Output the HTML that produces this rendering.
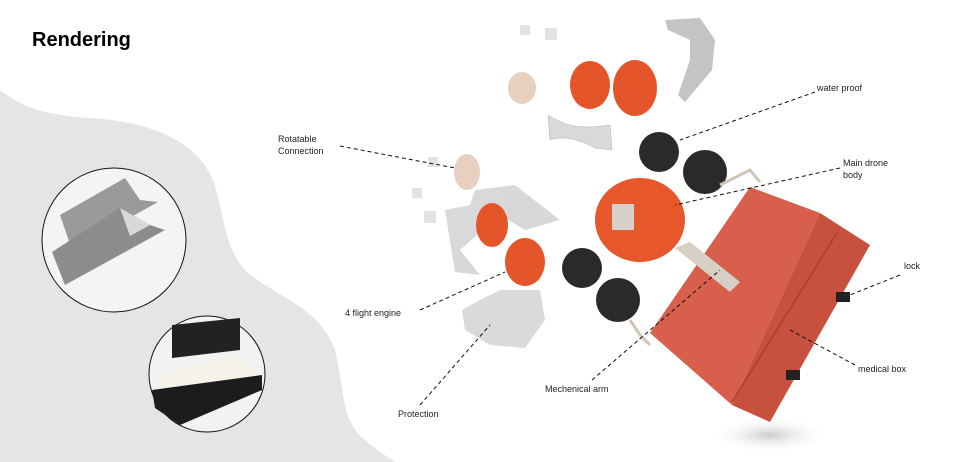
<!DOCTYPE html>
<html><head><style>
html,body{margin:0;padding:0;background:#fff;}
body{width:979px;height:462px;position:relative;overflow:hidden;font-family:"Liberation Sans",sans-serif;}
.t{position:absolute;font-size:9px;color:#222;line-height:12px;}
</style></head><body>
<svg width="979" height="462" style="position:absolute;left:0;top:0">
<defs><radialGradient id="sh"><stop offset="0" stop-color="#ccc"/><stop offset="1" stop-color="#fff" stop-opacity="0"/></radialGradient></defs>
<path d="M0,90 C20,105 40,115 90,118 C150,122 195,140 212,178 C225,210 222,250 250,275 C285,300 320,310 335,350 C345,390 340,420 365,440 C378,452 390,458 395,462 L0,462 Z" fill="#e5e5e6"/>
<circle cx="114" cy="240" r="72" fill="#f4f4f4" stroke="#111" stroke-width="1"/>
<polygon points="60,215 125,178 140,200 158,202 72,250" fill="#9a9a9a"/>
<polygon points="52,252 120,208 150,225 165,230 65,285" fill="#8c8c8c"/>
<polygon points="120,208 150,225 130,236" fill="#d8d8d8"/>
<circle cx="207" cy="374" r="58" fill="#f2f2f2" stroke="#111" stroke-width="1"/>
<polygon points="172,325 240,318 240,350 172,358" fill="#222"/>
<polygon points="155,375 240,355 262,375 170,402" fill="#f5f2ea"/>
<polygon points="152,390 262,375 262,390 180,425 155,408" fill="#1c1c1c"/>
<ellipse cx="770" cy="435" rx="60" ry="18" fill="url(#sh)"/>
<!-- protections -->
<g opacity="0.8">
<path d="M665,20 L700,18 L715,40 L712,70 L685,102 L678,95 L690,60 L690,40 L668,30 Z" fill="#b5b5b8"/>
<path d="M548,115 C565,125 575,130 610,125 L612,150 L595,148 C580,140 565,135 550,140 Z" fill="#d0d0d3" stroke="#999" stroke-width="0.5"/>
<path d="M445,210 L470,205 L475,190 L515,185 L560,220 L525,230 L500,215 L460,250 L480,275 L455,272 Z" fill="#cfcfd2"/>
<path d="M462,310 L480,300 L500,290 L540,290 L545,320 L525,348 L490,345 L465,330 Z" fill="#d2d2d4"/>
</g>
<ellipse cx="590" cy="85" rx="20" ry="24" fill="#e4562a"/>
<ellipse cx="635" cy="88" rx="22" ry="28" fill="#e4562a"/>
<ellipse cx="492" cy="225" rx="16" ry="22" fill="#e4562a"/>
<ellipse cx="525" cy="262" rx="20" ry="24" fill="#e4562a"/>
<ellipse cx="522" cy="88" rx="14" ry="16" fill="#e8cfc0"/>
<ellipse cx="467" cy="172" rx="13" ry="18" fill="#e8cfc0"/>
<rect x="520" y="25" width="10" height="10" fill="#e2e2e2"/><rect x="545" y="28" width="12" height="12" fill="#e2e2e2"/>
<rect x="428" y="157" width="10" height="10" fill="#e2e2e2"/><rect x="412" y="188" width="10" height="10" fill="#e2e2e2"/><rect x="424" y="211" width="12" height="12" fill="#e2e2e2"/>
<!-- box -->
<path d="M750,187 L820,213 L732,405 L650,333 Z" fill="#d85f4c"/>
<path d="M820,213 L870,245 L770,422 L732,405 Z" fill="#c8503e"/>
<line x1="837" y1="233" x2="732" y2="402" stroke="#a8402f" stroke-width="1.5"/>
<rect x="836" y="292" width="14" height="10" fill="#222"/><rect x="786" y="370" width="14" height="10" fill="#222"/>
<ellipse cx="640" cy="220" rx="45" ry="42" fill="#e6582b"/>
<rect x="612" y="204" width="22" height="26" fill="#d6d0c6"/>
<polygon points="675,248 690,242 740,282 730,292" fill="#d8cfc4"/>
<circle cx="659" cy="152" r="20" fill="#2a2a2a"/><circle cx="705" cy="172" r="22" fill="#2a2a2a"/>
<circle cx="582" cy="268" r="20" fill="#2a2a2a"/><circle cx="618" cy="300" r="22" fill="#2a2a2a"/>
<polyline points="720,185 750,170 760,182" fill="none" stroke="#cfc4b8" stroke-width="3"/>
<polyline points="630,320 640,335 650,345" fill="none" stroke="#cfc4b8" stroke-width="3"/>
<g stroke="#111" stroke-width="1" stroke-dasharray="4,3" fill="none">
<line x1="340" y1="146" x2="455" y2="168"/>
<line x1="815" y1="92" x2="680" y2="140"/>
<line x1="840" y1="168" x2="675" y2="205"/>
<line x1="900" y1="275" x2="850" y2="295"/>
<line x1="855" y1="365" x2="790" y2="330"/>
<line x1="592" y1="380" x2="720" y2="270"/>
<line x1="420" y1="310" x2="505" y2="272"/>
<line x1="420" y1="405" x2="490" y2="325"/>
</g>
</svg>
<div style="position:absolute;left:32px;top:29px;font-size:20px;font-weight:bold;color:#000">Rendering</div>
<div class="t" style="left:278px;top:133px">Rotatable<br>Connection</div>
<div class="t" style="left:817px;top:82px">water proof</div>
<div class="t" style="left:843px;top:157px">Main drone<br>body</div>
<div class="t" style="left:904px;top:260px">lock</div>
<div class="t" style="left:858px;top:363px">medical box</div>
<div class="t" style="left:545px;top:383px">Mechenical arm</div>
<div class="t" style="left:398px;top:408px">Protection</div>
<div class="t" style="left:345px;top:307px">4 flight engine</div>
</body></html>
